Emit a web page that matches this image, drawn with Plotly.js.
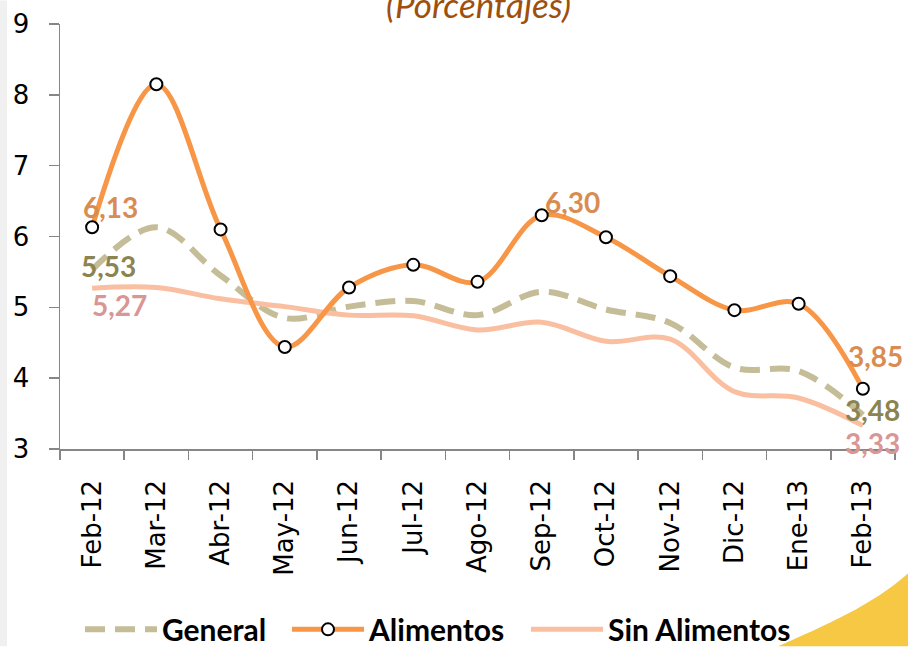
<!DOCTYPE html>
<html>
<head>
<meta charset="utf-8">
<script src="https://cdn.plot.ly/plotly-3.0.1.min.js"></script>
<style>
html,body{margin:0;padding:0;background:#ffffff;}
#chart{width:908px;height:647px;}
</style>
</head>
<body>
<div id="chart"></div>
<script>
// ---- data ----
var months = ["Feb-12","Mar-12","Abr-12","May-12","Jun-12","Jul-12","Ago-12","Sep-12","Oct-12","Nov-12","Dic-12","Ene-13","Feb-13"];
var general = [5.53, 6.13, 5.45, 4.85, 5.01, 5.09, 4.89, 5.22, 4.97, 4.78, 4.15, 4.10, 3.48];
var alimentos = [6.13, 8.15, 6.10, 4.44, 5.28, 5.60, 5.36, 6.30, 5.99, 5.44, 4.96, 5.05, 3.85];
var sinAlimentos = [5.27, 5.28, 5.12, 5.01, 4.89, 4.88, 4.68, 4.79, 4.52, 4.55, 3.81, 3.72, 3.33];
var yTicks = [3, 4, 5, 6, 7, 8, 9];
var seriesNames = ["General", "Alimentos", "Sin Alimentos"];
var subtitle = "(Porcentajes)";

// ---- geometry helpers (figure pixels -> paper) ----
var W = 908, H = 647;
var M = {l: 60, r: 13, t: 23.5, b: 197.7};
var PW = W - M.l - M.r, PH = H - M.t - M.b;
function px(x){ return (x - M.l) / PW; }
function py(y){ return (H - M.b - y) / PH; }

function fmt(v){ return v.toFixed(2).replace('.', ','); }

var cGeneral = '#C4BD97', cAlim = '#F79646', cSin = '#F9BFA0';
var lblAlim = '#D98C52', lblGen = '#8C8450', lblSin = '#D99694';

var traces = [
  {x: months, y: general, name: seriesNames[0], type: 'scatter', mode: 'lines', legend: 'legend',
   line: {color: cGeneral, width: 6, dash: '20px,10px', shape: 'spline', smoothing: 1}},
  {x: months, y: sinAlimentos, name: seriesNames[2], type: 'scatter', mode: 'lines', legend: 'legend3',
   line: {color: cSin, width: 5, shape: 'spline', smoothing: 1}},
  {x: months, y: alimentos, name: seriesNames[1], type: 'scatter', mode: 'lines+markers', legend: 'legend2',
   line: {color: cAlim, width: 5, shape: 'spline', smoothing: 1},
   marker: {symbol: 'circle', size: 12, color: '#ffffff', line: {color: '#000000', width: 2}},
   cliponaxis: false}
];

var last = months.length - 1;
function lab(i, arr, color, xs, ys){
  return {x: months[i], y: arr[i], xref: 'x', yref: 'y', text: '<b>' + fmt(arr[i]) + '</b>',
    showarrow: false, xshift: xs, yshift: ys,
    font: {family: 'Lato, sans-serif', size: 28, color: color}};
}
var annotations = [
  lab(0, alimentos, lblAlim, 18, 20),
  lab(0, general, lblGen, 16, 4),
  lab(0, sinAlimentos, lblSin, 27, -17),
  lab(7, alimentos, lblAlim, 31, 13),
  lab(last, alimentos, lblAlim, 13, 33),
  lab(last, general, lblGen, 10, 5),
  lab(last, sinAlimentos, lblSin, 10, -17),
  {x: px(478), y: py(3), xref: 'paper', yref: 'paper', text: '<i>' + subtitle + '</i>',
   showarrow: false, xanchor: 'center', yanchor: 'middle',
   font: {family: 'Lato, sans-serif', size: 35, color: '#9E4F0C'}}
];

var shapes = [
  {type: 'path', xref: 'paper', yref: 'paper', layer: 'below',
   path: 'M' + px(778) + ',' + py(647) + ' C' + px(825) + ',' + py(626) + ' ' + px(872) + ',' + py(606) + ' ' + px(908) + ',' + py(574) +
         ' L' + px(908) + ',' + py(647) + ' Z',
   fillcolor: '#F6C843', line: {width: 0}},
  {type: 'rect', xref: 'paper', yref: 'paper', layer: 'below',
   x0: px(0), x1: px(7), y0: py(647), y1: py(0), fillcolor: 'rgba(0,0,0,0.06)', line: {width: 0}}
];

function leg(xpix){
  return {orientation: 'h', x: px(xpix), xanchor: 'left', y: py(630), yanchor: 'middle',
    font: {family: 'Lato, sans-serif', size: 30, color: '#000000', weight: 'bold'},
    itemwidth: 72, bgcolor: 'rgba(0,0,0,0)', borderwidth: 0};
}

var layout = {
  width: W, height: H,
  margin: {l: M.l, r: M.r, t: M.t, b: M.b, autoexpand: false},
  paper_bgcolor: '#ffffff', plot_bgcolor: '#ffffff',
  showlegend: true,
  legend: leg(80),
  legend2: leg(287),
  legend3: leg(526),
  xaxis: {type: 'category', range: [-0.5, 12.5], showline: true, linecolor: '#868686', linewidth: 1.5,
    ticks: 'outside', tickson: 'boundaries', ticklen: 9, tickwidth: 1.5, tickcolor: '#868686',
    tickangle: -90, showgrid: false, zeroline: false, ticklabelstandoff: 19,
    tickfont: {family: 'DejaVu Sans, sans-serif', size: 26, color: '#000000'}},
  yaxis: {range: [3, 9], tickvals: yTicks, ticktext: yTicks.map(String), showline: true, linecolor: '#868686', linewidth: 1.5,
    ticks: 'outside', ticklen: 10, tickwidth: 1.5, tickcolor: '#868686', showgrid: false, zeroline: false,
    ticklabelstandoff: 14,
    tickfont: {family: 'DejaVu Sans, sans-serif', size: 26, color: '#000000'}},
  annotations: annotations,
  shapes: shapes
};

Plotly.newPlot('chart', traces, layout, {displayModeBar: false, staticPlot: true});
</script>
</body>
</html>
